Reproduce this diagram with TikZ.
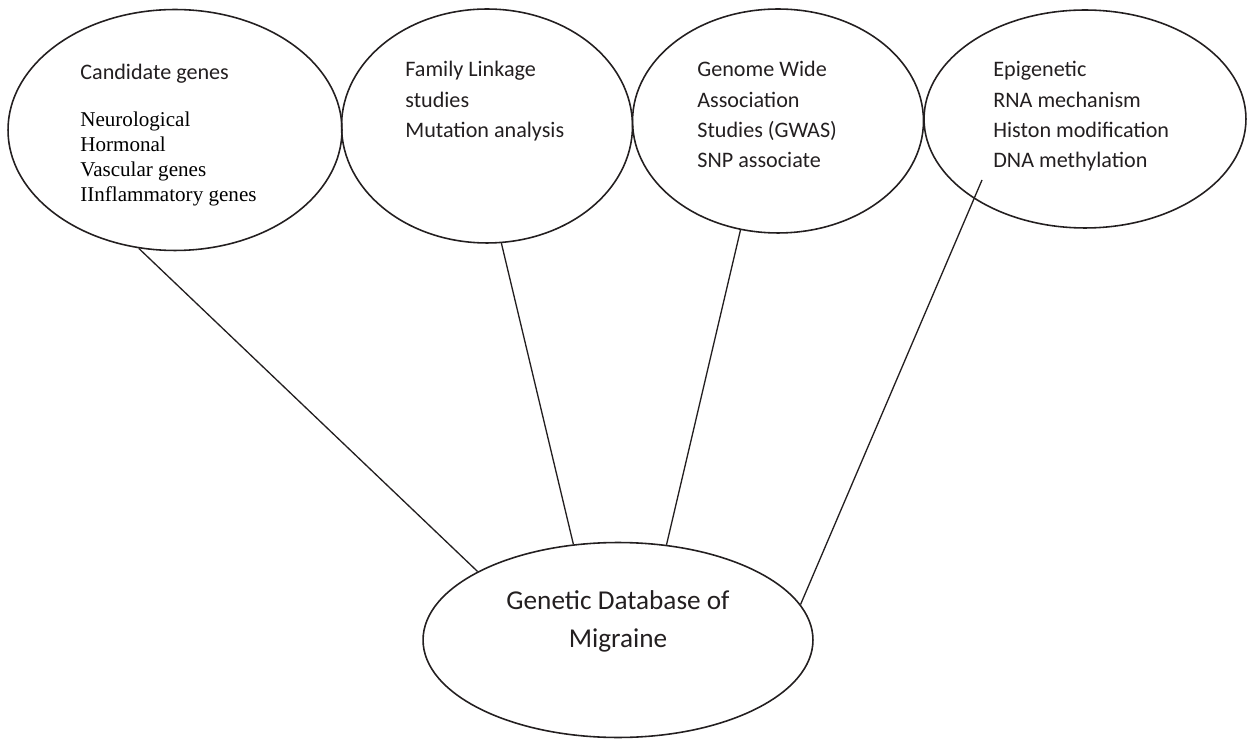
\documentclass[tikz,border=0pt]{standalone}
\usepackage{fontspec}
\setmainfont{Liberation Serif}
\newfontfamily\labelsans{Carlito}
\usepackage{tikz}
\usetikzlibrary{shapes.geometric}
\definecolor{inkgray}{RGB}{35, 31, 32}
\tikzset{
  topicellipse/.style={
    draw=inkgray,
    ellipse,
    line width=0.9pt,
    inner sep=0pt
  },
  linkline/.style={
    draw=inkgray,
    line width=0.75pt
  },
  sanslist/.style={
    anchor=north west,
    inner sep=0pt,
    align=left,
    text=inkgray,
    font=\labelsans\fontsize{12.6}{17.3}\selectfont
  },
  seriflist/.style={
    anchor=north west,
    inner sep=0pt,
    align=left,
    text=black,
    font=\fontsize{12}{14.2}\selectfont
  },
  hubtext/.style={
    inner sep=0pt,
    align=center,
    text=inkgray,
    font=\labelsans\fontsize{15.5}{21.5}\selectfont
  }
}

\begin{document}
\begin{tikzpicture}[x=0.02cm, y=-0.02cm]
  \useasboundingbox (0,0) rectangle (1247,739);

  % four topic ellipses and the hub
  \node[topicellipse, minimum width=6.68cm, minimum height=4.82cm] (cand) at (175,130) {};
  \node[topicellipse, minimum width=5.82cm, minimum height=4.68cm] (family) at (487,126) {};
  \node[topicellipse, minimum width=5.82cm, minimum height=4.48cm] (gwas) at (778,121) {};
  \node[topicellipse, minimum width=6.44cm, minimum height=4.36cm] (epi) at (1085,119) {};
  \node[topicellipse, minimum width=7.8cm, minimum height=3.9cm] (hub) at (618,640) {};

  % texts
  \node[sanslist] (candTitle) at (80,64) {Candidate genes};
  \node[seriflist] (candList) at (80,112) {Neurological\\Hormonal\\Vascular genes\\IInflammatory genes};
  \node[sanslist] (familyText) at (405,61) {Family Linkage\\studies\\Mutation analysis};
  \node[sanslist] (gwasText) at (697,61) {Genome Wide\\Association\\Studies (GWAS)\\SNP associate};
  \node[sanslist] (epiText) at (993,61) {Epigenetic\\RNA mechanism\\Histon modification\\DNA methylation};
  \node[hubtext] (hubText) at (618,621) {Genetic Database of\\Migraine};

  \coordinate (epiTail) at (982,180);

  \draw[linkline] (cand.253) -- (hub.154);
  \draw[linkline] (family.277) -- (hub.115);
  \draw[linkline] (gwas.251) -- (hub.63);
  \draw[linkline] (epiTail) -- (hub.11);
\end{tikzpicture}
\end{document}
